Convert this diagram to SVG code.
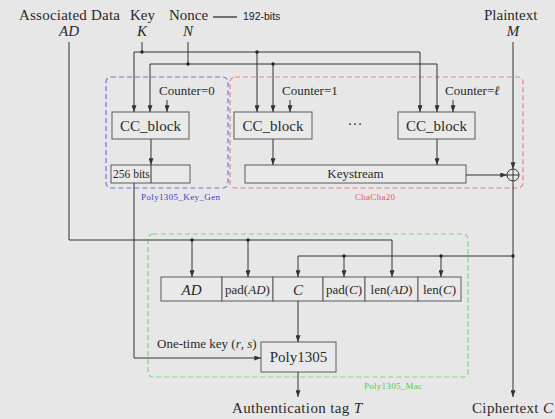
<svg xmlns="http://www.w3.org/2000/svg" width="555" height="419" viewBox="0 0 555 419">
<defs>
<marker id="arr" viewBox="0 0 8 6" refX="8" refY="3" markerWidth="7" markerHeight="5" orient="auto" markerUnits="userSpaceOnUse"><path d="M0,0 L8,3 L0,6 z" fill="#333"/></marker>
<style>
.t{font-family:"Liberation Serif","Times New Roman",serif;fill:#2a2a2a}
.big{font-size:15px}
.mid{font-size:13px}
.sm{font-size:11.5px}
.lab{font-size:9px}
.it{font-style:italic}
.box{fill:#e9e9e9;stroke:#5a5a5a;stroke-width:1}
.ln{fill:none;stroke:#333;stroke-width:1}
.ar{fill:none;stroke:#333;stroke-width:1;marker-end:url(#arr)}
.dot{fill:#222}
.dash{fill:none;stroke-width:1.2;stroke-dasharray:5,3}
</style>
</defs>
<rect x="0" y="0" width="555" height="419" fill="#e7e7e7"/>

<g id="group-keygen"><rect class="dash" x="106" y="77" width="122" height="111" rx="5" stroke="#7474d8"/><text class="t lab" x="141" y="200" textLength="79" style="fill:#4040c8">Poly1305_Key_Gen</text></g>
<g id="group-chacha"><rect class="dash" x="230" y="77" width="293" height="111" rx="5" stroke="#f08282"/><text class="t lab" x="355" y="200" textLength="40" style="fill:#e25a5a">ChaCha20</text></g>
<g id="group-mac"><rect class="dash" x="148" y="234" width="320" height="143" rx="5" stroke="#72de72"/><text class="t lab" x="364" y="389" textLength="58" style="fill:#4ccc4c">Poly1305_Mac</text></g>

<g id="in-ad"><text class="t big" x="19" y="20" textLength="101">Associated Data</text><text class="t big it" x="69" y="36" text-anchor="middle">AD</text></g>
<g id="in-key"><text class="t big" x="130" y="20">Key</text><text class="t big it" x="142" y="36" text-anchor="middle">K</text></g>
<g id="in-nonce"><text class="t big" x="169" y="20">Nonce</text><text class="t big it" x="188" y="36" text-anchor="middle">N</text><line x1="213" y1="17" x2="237" y2="17" stroke="#222" stroke-width="1.2"/><text x="243" y="20" style="font-family:'Liberation Sans',Arial,sans-serif;font-size:10.5px;fill:#222">192-bits</text></g>
<g id="in-plain"><text class="t big" x="484" y="20">Plaintext</text><text class="t big it" x="513" y="36" text-anchor="middle">M</text></g>

<g id="cc0"><rect class="box" x="112" y="112" width="77" height="27"/><text class="t big" x="150.5" y="131" text-anchor="middle">CC_block</text><text class="t mid" x="159" y="95">Counter=0</text></g>
<g id="cc1"><rect class="box" x="234" y="112" width="78" height="27"/><text class="t big" x="273" y="131" text-anchor="middle">CC_block</text><text class="t mid" x="282" y="95">Counter=1</text></g>
<g id="dots"><text class="t big" x="355" y="129" text-anchor="middle">···</text></g>
<g id="ccl"><rect class="box" x="398" y="112" width="77" height="27"/><text class="t big" x="436.5" y="131" text-anchor="middle">CC_block</text><text class="t mid" x="445" y="95">Counter=<tspan class="it">ℓ</tspan></text></g>
<g id="bits256"><rect class="box" x="111" y="165" width="79" height="18"/><text class="t sm" x="113" y="178">256 bits</text></g>
<g id="keystream"><rect class="box" x="245" y="165" width="221" height="18"/><text class="t mid" x="355.5" y="178" text-anchor="middle">Keystream</text></g>
<g id="xor"><circle cx="513" cy="175" r="6" fill="none" stroke="#333" stroke-width="1"/><path d="M507,175 H519 M513,169 V181" stroke="#333" stroke-width="1"/></g>

<g id="row">
<rect class="box" x="161" y="277" width="61" height="24"/><text class="t big it" x="191.5" y="295" text-anchor="middle">AD</text>
<rect class="box" x="222" y="277" width="51" height="24"/><text class="t mid" x="247.5" y="294" text-anchor="middle">pad(<tspan class="it">AD</tspan>)</text>
<rect class="box" x="273" y="277" width="50" height="24"/><text class="t big it" x="298" y="295" text-anchor="middle">C</text>
<rect class="box" x="323" y="277" width="42" height="24"/><text class="t mid" x="344" y="294" text-anchor="middle">pad(<tspan class="it">C</tspan>)</text>
<rect class="box" x="365" y="277" width="53" height="24"/><text class="t mid" x="391.5" y="294" text-anchor="middle">len(<tspan class="it">AD</tspan>)</text>
<rect class="box" x="418" y="277" width="43" height="24"/><text class="t mid" x="439.5" y="294" text-anchor="middle">len(<tspan class="it">C</tspan>)</text>
</g>
<g id="poly1305"><rect class="box" x="261" y="342" width="75" height="30"/><text class="t big" x="298.5" y="362" text-anchor="middle">Poly1305</text><text class="t mid" x="157" y="348">One-time key (<tspan class="it">r</tspan>, <tspan class="it">s</tspan>)</text></g>
<g id="out-tag"><text class="t big" x="232" y="413" textLength="130">Authentication tag <tspan class="it">T</tspan></text></g>
<g id="out-cipher"><text class="t big" x="472" y="413" textLength="81">Ciphertext <tspan class="it">C</tspan></text></g>

<g id="connectors">
<path class="ln" d="M69,42 V240 H392"/>
<path class="ar" d="M392,240 V277"/>
<path class="ar" d="M192,240 V277"/>
<path class="ar" d="M248,240 V277"/>
<path class="ln" d="M142,42 V52 M134,52 H420"/>
<path class="ar" d="M134,52 V112"/>
<path class="ar" d="M257,52 V112"/>
<path class="ar" d="M420,52 V112"/>
<path class="ln" d="M188,42 V64 M150,64 H437"/>
<path class="ar" d="M150,64 V112"/>
<path class="ar" d="M273,64 V112"/>
<path class="ar" d="M437,64 V112"/>
<path class="ar" d="M167,100 V112"/>
<path class="ar" d="M290,100 V112"/>
<path class="ar" d="M453,100 V112"/>
<path class="ar" d="M151,139 V165"/>
<path class="ln" d="M151,165 V183"/>
<path class="ar" d="M273,139 V165"/>
<path class="ar" d="M437,139 V165"/>
<path class="ar" d="M466,175 H507"/>
<path class="ar" d="M513,42 V169"/>
<path class="ar" d="M513,181 V397"/>
<path class="ar" d="M513,256 H298 V277"/>
<path class="ar" d="M344,256 V277"/>
<path class="ar" d="M441,256 V277"/>
<path class="ar" d="M134,183 V358 H261"/>
<path class="ar" d="M298,301 V342"/>
<path class="ar" d="M298,372 V397"/>
<circle class="dot" cx="142" cy="52" r="1.7"/>
<circle class="dot" cx="257" cy="52" r="1.7"/>
<circle class="dot" cx="188" cy="64" r="1.7"/>
<circle class="dot" cx="273" cy="64" r="1.7"/>
<circle class="dot" cx="192" cy="240" r="1.7"/>
<circle class="dot" cx="248" cy="240" r="1.7"/>
<circle class="dot" cx="344" cy="256" r="1.7"/>
<circle class="dot" cx="441" cy="256" r="1.7"/>
<circle class="dot" cx="513" cy="256" r="1.7"/>
</g>
</svg>
